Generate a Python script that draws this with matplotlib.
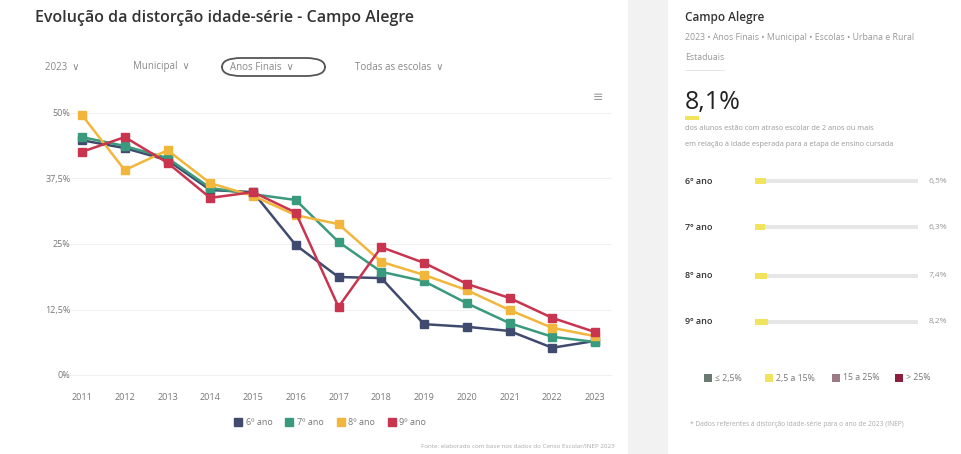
import matplotlib.pyplot as plt
from matplotlib.patches import Rectangle, FancyBboxPatch
from matplotlib.lines import Line2D

plt.rcParams['font.family'] = ['Open Sans', 'DejaVu Sans']

# dados (distorção idade-série, %)
anos = [2011, 2012, 2013, 2014, 2015, 2016, 2017, 2018, 2019, 2020, 2021, 2022, 2023]
serie_6 = [44.8, 43.3, 41.0, 35.3, 34.9, 24.8, 18.7, 18.5, 9.7, 9.2, 8.4, 5.2, 6.5]
serie_7 = [45.4, 43.7, 41.4, 35.7, 34.5, 33.4, 25.4, 19.7, 17.9, 13.7, 9.9, 7.3, 6.3]
serie_8 = [49.6, 39.1, 42.9, 36.6, 34.2, 30.5, 28.8, 21.6, 19.1, 16.2, 12.4, 9.0, 7.4]
serie_9 = [42.6, 45.4, 40.5, 33.8, 34.9, 31.0, 13.0, 24.4, 21.4, 17.4, 14.7, 10.9, 8.2]
nomes = ['6º ano', '7º ano', '8º ano', '9º ano']
cores = ['#3f4a6e', '#3a9a7e', '#f2b63c', '#c9344f']
yticks = [0, 12.5, 25, 37.5, 50]
ytick_labels = ['0%', '12,5%', '25%', '37,5%', '50%']
total = 8.1
faixas = ['≤ 2,5%', '2,5 a 15%', '15 a 25%', '> 25%']
cores_faixas = ['#6b7b74', '#f2e35c', '#9a7b86', '#8c1f3e']

W, H = 962, 454
fig = plt.figure(figsize=(W / 100, H / 100), dpi=100)
fig.patch.set_facecolor('white')


def fx(px):
    return px / W


def fy(py):
    return 1 - py / H


# faixa cinza entre os painéis
fig.add_artist(Rectangle((fx(628), 0), fx(668) - fx(628), 1, transform=fig.transFigure,
                         facecolor='#f2f2f2', edgecolor='none', zorder=0))

# título e filtros
fig.text(fx(35), fy(18), 'Evolução da distorção idade-série - Campo Alegre',
         fontsize=11.5, color='#333333', va='center', ha='left', fontweight='semibold')
filtros = ['2023  ∨', 'Municipal  ∨', 'Anos Finais  ∨', 'Todas as escolas  ∨']
fx_pos = [45, 133, 230, 355]
for t, x in zip(filtros, fx_pos):
    fig.text(fx(x), fy(67), t, fontsize=7, color='#888888', va='center', ha='left')
fig.add_artist(FancyBboxPatch((fx(222), fy(76)), fx(325) - fx(222), fy(58) - fy(76),
                              boxstyle='round,pad=0,rounding_size=0.02',
                              transform=fig.transFigure, facecolor='none',
                              edgecolor='#555555', linewidth=1.3))

# gráfico de linhas
ax = fig.add_axes([fx(65), fy(382), fx(612) - fx(65), fy(100) - fy(382)])
ax.set_xlim(2011 - 17 / 42.75, 2023 + 17 / 42.75)
ax.set_ylim(-7 / 5.24, 50 + 13 / 5.24)
for serie, nome, cor in zip([serie_6, serie_7, serie_8, serie_9], nomes, cores):
    ax.plot(anos, serie, color=cor, linewidth=1.8, marker='s', markersize=6,
            markeredgecolor=cor, clip_on=False)
ax.set_xticks(anos)
ax.set_xticklabels([str(a) for a in anos], fontsize=6.5, color='#777777')
ax.set_yticks(yticks)
ax.set_yticklabels(ytick_labels, fontsize=6.5, color='#777777')
ax.tick_params(axis='x', length=0, pad=8)
ax.tick_params(axis='y', length=0, pad=-4)
ax.grid(axis='y', color='#f1f1f1', linewidth=0.8)
ax.set_axisbelow(True)
for s in ['top', 'right', 'left', 'bottom']:
    ax.spines[s].set_visible(False)
handles = [Line2D([], [], linestyle='none', marker='s', markersize=6, color=c) for c in cores]
ax.legend(handles, nomes, loc='upper center', bbox_to_anchor=(0.485, -0.1), ncol=4,
          frameon=False, fontsize=6.5, handlelength=0.8, handletextpad=0.4,
          columnspacing=1.5, labelcolor='#777777')
fig.text(fx(598), fy(98), '≡', fontsize=9, color='#999999', ha='center', va='center')
fig.text(fx(615), fy(447), 'Fonte: elaborado com base nos dados do Censo Escolar/INEP 2023',
         fontsize=4.5, color='#aaaaaa', ha='right', va='center')

# painel direito
fig.text(fx(685), fy(17), 'Campo Alegre', fontsize=8.5, color='#333333', va='center',
         fontweight='semibold')
fig.text(fx(685), fy(38), '2023 • Anos Finais • Municipal • Escolas • Urbana e Rural',
         fontsize=6.3, color='#999999', va='center')
fig.text(fx(685), fy(57), 'Estaduais', fontsize=6.3, color='#999999', va='center')
fig.add_artist(Rectangle((fx(685), fy(71)), fx(40), fy(0) - fy(1),
                         transform=fig.transFigure, facecolor='#e6e6e6', edgecolor='none'))
fig.text(fx(685), fy(102), f'{total:.1f}%'.replace('.', ','), fontsize=18,
         color='#222222', va='center')
fig.add_artist(Rectangle((fx(685), fy(120)), fx(14), fy(0) - fy(4),
                         transform=fig.transFigure, facecolor='#f2e35c', edgecolor='none'))
fig.text(fx(685), fy(129), 'dos alunos estão com atraso escolar de 2 anos ou mais',
         fontsize=5.3, color='#999999', va='center')
fig.text(fx(685), fy(145), 'em relação à idade esperada para a etapa de ensino cursada',
         fontsize=5.3, color='#999999', va='center')

linhas_y = [181, 227, 276, 322]
x0, x1 = 755, 918
for nome, serie, y in zip(nomes, [serie_6, serie_7, serie_8, serie_9], linhas_y):
    v = serie[-1]
    fig.text(fx(685), fy(y), nome, fontsize=6.5, color='#333333', va='center',
             fontweight='semibold')
    fig.add_artist(Rectangle((fx(x0), fy(y + 2)), fx(x1) - fx(x0), fy(y - 2) - fy(y + 2),
                             transform=fig.transFigure, facecolor='#e6e6e6', edgecolor='none'))
    fig.add_artist(Rectangle((fx(x0), fy(y + 3)), (fx(x1) - fx(x0)) * v / 100,
                             fy(y - 3) - fy(y + 3), transform=fig.transFigure,
                             facecolor='#f2e35c', edgecolor='none'))
    fig.text(fx(938), fy(y), f'{v:.1f}%'.replace('.', ','), fontsize=6,
             color='#999999', va='center', ha='center')

# legenda das faixas
lx = [714, 775, 842, 905]
for t, c, x in zip(faixas, cores_faixas, lx):
    fig.add_artist(Rectangle((fx(x - 10), fy(382)), fx(8), fy(0) - fy(8),
                             transform=fig.transFigure, facecolor=c, edgecolor='none'))
    fig.text(fx(x + 1), fy(378), t, fontsize=6.3, color='#777777', va='center')
fig.text(fx(690), fy(425), '* Dados referentes à distorção idade-série para o ano de 2023 (INEP)',
         fontsize=4.8, color='#aaaaaa', va='center')

fig.savefig('out.png', dpi=100)
